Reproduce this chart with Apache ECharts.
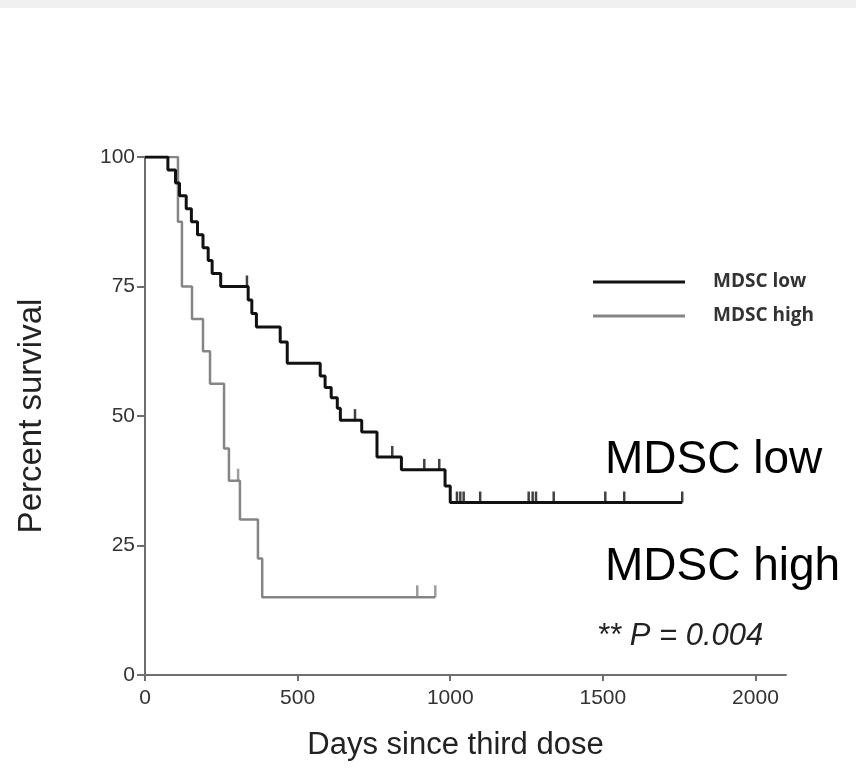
<!DOCTYPE html>
<html>
<head>
<meta charset="utf-8">
<script src="https://cdn.jsdelivr.net/npm/echarts@6/dist/echarts.min.js"></script>
<style>
html,body{margin:0;padding:0;background:#fff;}
#chart{width:856px;height:770px;}
</style>
</head>
<body>
<div id="chart"></div>
<script>
// MDSC low (Kaplan-Meier steps: day of event, survival after event)
const lowDays = [0, 75, 100, 113, 135, 152, 172, 190, 207, 220, 248, 338, 350, 365, 443, 466, 574, 590, 610, 630, 640, 710, 760, 840, 983, 1000, 1760];
const lowSurv = [100, 97.5, 95, 92.5, 90, 87.5, 85, 82.5, 80, 77.5, 75, 72.4, 69.8, 67.2, 64.3, 60.2, 57.7, 55.5, 53.5, 51.5, 49.2, 46.9, 42.1, 39.6, 36.5, 33.3, 33.3];
const lowCensorDays = [334, 688, 810, 915, 964, 1022, 1033, 1044, 1098, 1257, 1270, 1281, 1339, 1508, 1570, 1760];
const lowCensorSurv = [75, 49.2, 42.1, 39.6, 39.6, 33.3, 33.3, 33.3, 33.3, 33.3, 33.3, 33.3, 33.3, 33.3, 33.3, 33.3];

// MDSC high
const highDays = [0, 108, 121, 154, 190, 213, 259, 275, 311, 370, 384, 951];
const highSurv = [100, 87.5, 75, 68.75, 62.5, 56.25, 43.75, 37.5, 30, 22.5, 15, 15];
const highCensorDays = [305, 892, 951];
const highCensorSurv = [37.5, 15, 15];

const xTicks = [0, 500, 1000, 1500, 2000];
const yTicks = [0, 25, 50, 75, 100];
const seriesNames = ['MDSC low', 'MDSC high'];

const zip = (a, b) => a.map((v, i) => [v, b[i]]);

const chart = echarts.init(document.getElementById('chart'), null, {renderer: 'canvas'});
const axisColor = '#6e6e6e';
const labelColor = '#333';
const font = '"Liberation Sans", Arial, sans-serif';

chart.setOption({
  backgroundColor: '#ffffff',
  animation: false,
  grid: {left: 145, right: 70, top: 157, bottom: 95},
  xAxis: {
    type: 'value', min: 0, max: 2100,
    name: 'Days since third dose', nameLocation: 'middle', nameGap: 55,
    nameTextStyle: {fontSize: 31, color: '#222', fontFamily: font, padding: [0, 20, 0, 0]},
    axisLine: {show: true, lineStyle: {color: axisColor, width: 2}},
    axisTick: {show: true, length: 6, lineStyle: {color: axisColor, width: 2}, customValues: xTicks},
    axisLabel: {fontSize: 21, color: labelColor, margin: 13, fontFamily: font, customValues: xTicks,
      formatter: v => String(v)},
    splitLine: {show: false}
  },
  yAxis: {
    type: 'value', min: 0, max: 100, interval: 25,
    name: 'Percent survival', nameLocation: 'middle', nameGap: 97, nameRotate: 90,
    nameTextStyle: {fontSize: 33, color: '#222', fontFamily: font},
    axisLine: {show: true, lineStyle: {color: axisColor, width: 2}},
    axisTick: {show: true, length: 8, lineStyle: {color: axisColor, width: 2}, customValues: yTicks},
    axisLabel: {fontSize: 21, color: labelColor, margin: 10, fontFamily: font, customValues: yTicks,
      formatter: v => String(v)},
    splitLine: {show: false}
  },
  legend: {
    data: seriesNames,
    orient: 'vertical', left: 588, top: 266,
    icon: 'rect', itemWidth: 92, itemHeight: 3, itemGap: 12,
    textStyle: {fontSize: 19, fontWeight: 'bold', color: '#333', fontFamily: '"Open Sans", sans-serif', padding: [0, 0, 0, 23], lineHeight: 22}
  },
  series: [
    {
      name: 'MDSC low', type: 'line', step: 'end', z: 4,
      data: zip(lowDays, lowSurv), showSymbol: false, symbol: 'none',
      lineStyle: {color: '#111', width: 3}, itemStyle: {color: '#111'}
    },
    {
      name: 'MDSC high', type: 'line', step: 'end', z: 3,
      data: zip(highDays, highSurv), showSymbol: false, symbol: 'none',
      lineStyle: {color: '#858585', width: 2.5}, itemStyle: {color: '#858585'}
    },
    {
      name: 'low censored', type: 'scatter', z: 4,
      data: zip(lowCensorDays, lowCensorSurv),
      symbol: 'rect', symbolSize: [2.5, 11], symbolOffset: [0, -5.5],
      itemStyle: {color: '#111'}
    },
    {
      name: 'high censored', type: 'scatter', z: 3,
      data: zip(highCensorDays, highCensorSurv),
      symbol: 'rect', symbolSize: [2.5, 12], symbolOffset: [0, -6],
      itemStyle: {color: '#858585'}
    }
  ],
  graphic: [
    {type: 'rect', shape: {x: 0, y: 0, width: 856, height: 8}, style: {fill: '#f0f0f0'}, silent: true},
    {type: 'text', left: 605, top: 437, style: {text: 'MDSC low', fontSize: 46, fill: '#000', fontFamily: font}},
    {type: 'text', left: 605, top: 544, style: {text: 'MDSC high', fontSize: 46, fill: '#000', fontFamily: font}},
    {type: 'text', left: 597, top: 621, style: {text: '** P = 0.004', fontSize: 31, fontStyle: 'italic', fill: '#222', fontFamily: font}}
  ]
});
</script>
</body>
</html>
